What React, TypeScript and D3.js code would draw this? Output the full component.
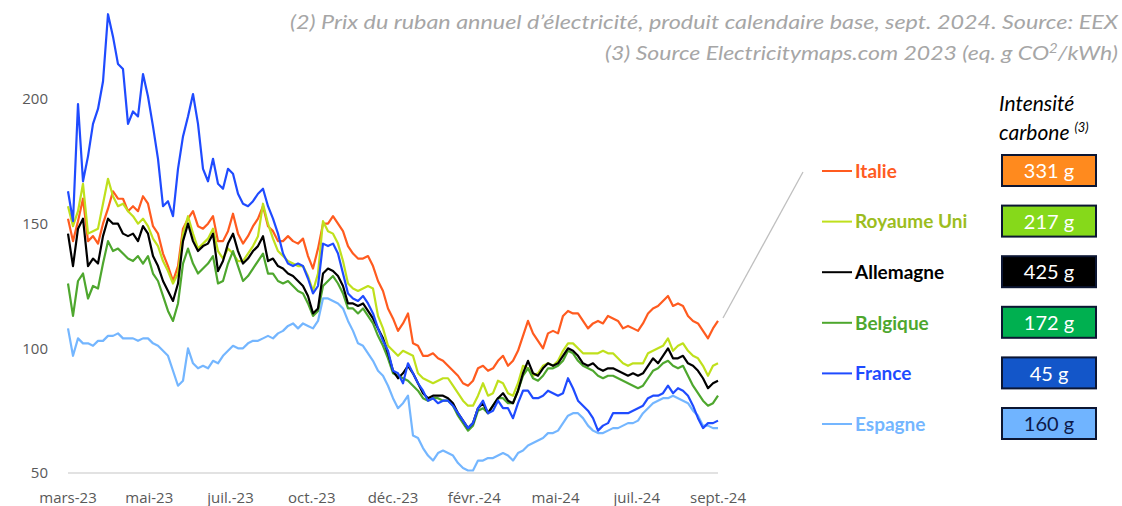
import * as d3 from "d3";

// prix du ruban annuel (€/MWh), un point tous les ~3 jours ouvrés
const tickLabels = ["mars-23", "mai-23", "juil.-23", "oct.-23", "déc.-23", "févr.-24", "mai-24", "juil.-24", "sept.-24"];
const yTicks = [50, 100, 150, 200];

const italie = [
  152, 143, 151, 160, 143, 145, 142, 150, 156, 163, 160, 160, 155, 157, 155, 161, 158, 149, 146, 138,
  133, 127, 133, 148, 152, 155, 149, 148, 150, 153, 143, 143, 147, 154, 146, 142, 145, 149, 152, 157,
  149, 147, 143, 143, 145, 143, 142, 144, 137, 132, 140, 150, 150, 153, 150, 147, 141, 138, 136, 136,
  137, 133, 127, 123, 116, 112, 107, 110, 114, 102, 101, 97, 97, 98, 96, 95, 93, 91, 89, 86,
  85, 87, 92, 93, 91, 92, 95, 97, 93, 95, 99, 105, 111, 106, 103, 100, 106, 107, 106, 113,
  115, 114, 114, 111, 108, 110, 111, 110, 113, 112, 111, 108, 109, 108, 107, 110, 114, 116, 117, 119,
  121, 117, 118, 117, 113, 111, 110, 107, 104, 108, 111,
];

const royaumeUni = [
  157, 149, 155, 166, 146, 147, 148, 158, 168, 161, 157, 158, 155, 153, 150, 152, 149, 144, 141, 135,
  131, 126, 130, 146, 153, 146, 140, 142, 144, 148, 139, 136, 140, 138, 135, 135, 138, 141, 145, 158,
  150, 144, 139, 137, 135, 134, 133, 133, 129, 123, 130, 151, 147, 146, 142, 135, 126, 124, 123, 124,
  125, 124, 113, 108, 101, 99, 97, 99, 98, 97, 90, 88, 87, 86, 87, 88, 88, 85, 82, 79,
  77, 77, 81, 86, 81, 82, 87, 86, 82, 81, 86, 93, 92, 89, 90, 93, 94, 93, 95, 99,
  102, 102, 100, 98, 98, 98, 98, 99, 98, 98, 96, 94, 93, 94, 94, 94, 98, 99, 100, 101,
  104, 99, 101, 102, 99, 97, 96, 93, 89, 93, 94,
];

const allemagne = [
  146, 133, 148, 152, 133, 136, 134, 145, 152, 150, 150, 146, 145, 146, 143, 149, 146, 137, 133, 127,
  123, 119, 126, 143, 150, 143, 139, 141, 142, 146, 131, 135, 142, 146, 139, 134, 136, 139, 141, 145,
  135, 136, 133, 132, 130, 129, 127, 125, 121, 114, 116, 130, 132, 131, 129, 125, 118, 118, 117, 118,
  115, 112, 108, 104, 98, 91, 88, 90, 93, 90, 86, 82, 80, 81, 81, 81, 80, 78, 74, 71,
  68, 70, 76, 78, 74, 77, 80, 82, 79, 78, 83, 90, 95, 90, 89, 92, 94, 93, 94, 97,
  100, 99, 97, 94, 93, 94, 92, 91, 92, 92, 91, 90, 89, 90, 89, 90, 93, 96, 94, 97,
  100, 96, 96, 97, 94, 93, 91, 88, 84, 86, 87,
];

const belgique = [
  126, 113, 127, 130, 120, 125, 124, 134, 143, 139, 140, 138, 136, 135, 137, 134, 137, 130, 127, 121,
  115, 111, 118, 134, 140, 134, 130, 132, 134, 137, 126, 127, 134, 139, 133, 127, 129, 132, 135, 138,
  130, 130, 127, 126, 127, 125, 123, 122, 118, 113, 115, 125, 127, 129, 126, 122, 116, 116, 114, 116,
  113, 110, 105, 101, 96, 90, 89, 88, 87, 85, 83, 80, 79, 80, 80, 79, 79, 77, 73, 70,
  67, 69, 75, 76, 74, 77, 80, 80, 78, 78, 83, 89, 92, 88, 87, 89, 92, 92, 93, 95,
  99, 98, 95, 93, 92, 91, 89, 88, 89, 89, 88, 87, 86, 85, 84, 85, 88, 91, 92, 94,
  95, 93, 92, 93, 89, 85, 82, 79, 77, 78, 81,
];

const france = [
  163, 151, 198, 167, 177, 190, 196, 207, 234, 225, 214, 212, 190, 195, 193, 210, 201, 189, 176, 157,
  159, 153, 172, 185, 193, 202, 190, 172, 167, 176, 166, 164, 172, 170, 162, 158, 157, 159, 162, 164,
  157, 152, 146, 138, 134, 133, 134, 133, 128, 122, 125, 142, 141, 142, 138, 130, 122, 120, 119, 121,
  118, 114, 108, 103, 99, 91, 90, 86, 94, 90, 86, 83, 79, 80, 78, 79, 79, 77, 74, 71,
  68, 70, 76, 79, 74, 75, 79, 76, 76, 72, 78, 83, 83, 80, 80, 81, 83, 82, 81, 82,
  88, 84, 79, 77, 75, 72, 67, 69, 70, 74, 74, 74, 74, 75, 76, 77, 80, 81, 81, 82,
  85, 82, 84, 83, 81, 77, 72, 68, 70, 70, 71,
];

const espagne = [
  108, 97, 104, 102, 102, 101, 103, 103, 105, 105, 106, 104, 104, 104, 103, 104, 104, 102, 101, 99,
  97, 91, 85, 87, 100, 94, 92, 93, 92, 95, 94, 97, 99, 101, 100, 100, 102, 103, 103, 104,
  105, 104, 106, 107, 109, 110, 108, 110, 109, 108, 111, 120, 120, 119, 118, 116, 111, 107, 102, 101,
  98, 95, 91, 89, 85, 80, 76, 78, 81, 65, 64, 60, 57, 55, 58, 59, 58, 57, 54, 52,
  51, 51, 55, 55, 56, 56, 57, 58, 57, 55, 58, 59, 61, 62, 63, 64, 66, 66, 67, 70,
  73, 74, 74, 72, 69, 67, 66, 66, 67, 68, 68, 69, 70, 70, 71, 74, 76, 78, 79, 80,
  80, 81, 80, 79, 78, 75, 73, 69, 69, 68, 68,
];

const countries = ["Italie", "Royaume Uni", "Allemagne", "Belgique", "France", "Espagne"];
const intensities = ["331 g", "217 g", "425 g", "172 g", "45 g", "160 g"];

const lineColors = ["#ff5b1f", "#bfe01c", "#000000", "#4ea72e", "#1f4bff", "#74b6ff"];
const labelColors = ["#ff5b1f", "#9cbd1e", "#000000", "#4ea72e", "#1f4bff", "#74b6ff"];
const boxFills = ["#ff8a1e", "#86d91a", "#000000", "#00b050", "#1356c9", "#70b4ff"];
const boxTextColors = ["#ffffff", "#ffffff", "#ffffff", "#ffffff", "#ffffff", "#0c1a4a"];

const calibriLike = "Lato, 'Open Sans', sans-serif";

export default function App() {
  const width = 1122;
  const height = 506;
  const lastIdx = 130;

  const x = d3.scaleLinear().domain([0, lastIdx]).range([68, 718]);
  const y = d3.scaleLinear().domain([50, 200]).range([473, 99]);
  const rowY = d3.scaleLinear().domain([0, 5]).range([171, 424]);

  const series = [italie, royaumeUni, allemagne, belgique, france, espagne];
  const drawOrder = [5, 0, 1, 3, 2, 4];

  const pathFor = (vals: number[]) =>
    d3
      .line<number>()
      .x((_, i) => x((i * lastIdx) / (vals.length - 1)))
      .y((d) => y(d))(vals) || "";

  const tickPos = tickLabels.map((_, k) => (k * lastIdx) / (tickLabels.length - 1));

  return (
    <svg
      width={width}
      height={height}
      style={{ position: "absolute", left: 0, top: 0, background: "#fff" }}
    >
      {/* notes */}
      <g fontFamily={calibriLike} fontStyle="italic" fill="#a6a6a6" fontSize={20} textAnchor="end">
        <text x={1118} y={29} textLength={828} lengthAdjust="spacingAndGlyphs">
          (2) Prix du ruban annuel d’électricité, produit calendaire base, sept. 2024. Source: EEX
        </text>
        <text x={1118} y={60} textLength={513} lengthAdjust="spacingAndGlyphs">
          (3) Source Electricitymaps.com 2023 (eq. g CO<tspan dy={-7} fontSize={13}>2</tspan>
          <tspan dy={7}>/kWh)</tspan>
        </text>
      </g>

      {/* axes */}
      <line x1={x(0)} x2={x(lastIdx)} y1={y(50)} y2={y(50)} stroke="#d9d9d9" strokeWidth={1.5} />
      <g fontFamily="'Open Sans', sans-serif" fontSize={15} fill="#595959">
        {yTicks.map((t) => (
          <text key={t} x={48} y={y(t)} dy="0.35em" textAnchor="end">
            {t}
          </text>
        ))}
        {tickLabels.map((lab, k) => (
          <text key={lab} x={x(tickPos[k])} y={503} textAnchor="middle">
            {lab}
          </text>
        ))}
      </g>

      {/* séries */}
      <g fill="none" strokeWidth={2.2} strokeLinejoin="round">
        {drawOrder.map((i) => (
          <path key={countries[i]} d={pathFor(series[i])} stroke={lineColors[i]} />
        ))}
      </g>

      {/* connecteur */}
      <line x1={723} y1={318} x2={803} y2={172} stroke="#bfbfbf" strokeWidth={1.3} />

      {/* légende */}
      <g fontFamily={calibriLike} fontStyle="italic" fill="#000" fontSize={21}>
        <text x={999} y={111}>Intensité</text>
        <text x={999} y={140}>
          carbone <tspan fontSize={13} dy={-8}>(3)</tspan>
        </text>
      </g>
      {countries.map((c, i) => (
        <g key={c}>
          <line x1={822} x2={852} y1={rowY(i)} y2={rowY(i)} stroke={lineColors[i]} strokeWidth={2} />
          <text
            x={855}
            y={rowY(i)}
            dy="0.36em"
            fill={labelColors[i]}
            fontFamily={calibriLike}
            fontWeight="bold"
            fontSize={19}
          >
            {c}
          </text>
          <rect
            x={1002}
            y={rowY(i) - 16}
            width={94}
            height={31}
            fill={boxFills[i]}
            stroke="#0c1633"
            strokeWidth={2}
          />
          <text
            x={1049}
            y={rowY(i)}
            dy="0.36em"
            textAnchor="middle"
            fill={boxTextColors[i]}
            fontFamily={calibriLike}
            fontSize={20}
          >
            {intensities[i]}
          </text>
        </g>
      ))}
    </svg>
  );
}
